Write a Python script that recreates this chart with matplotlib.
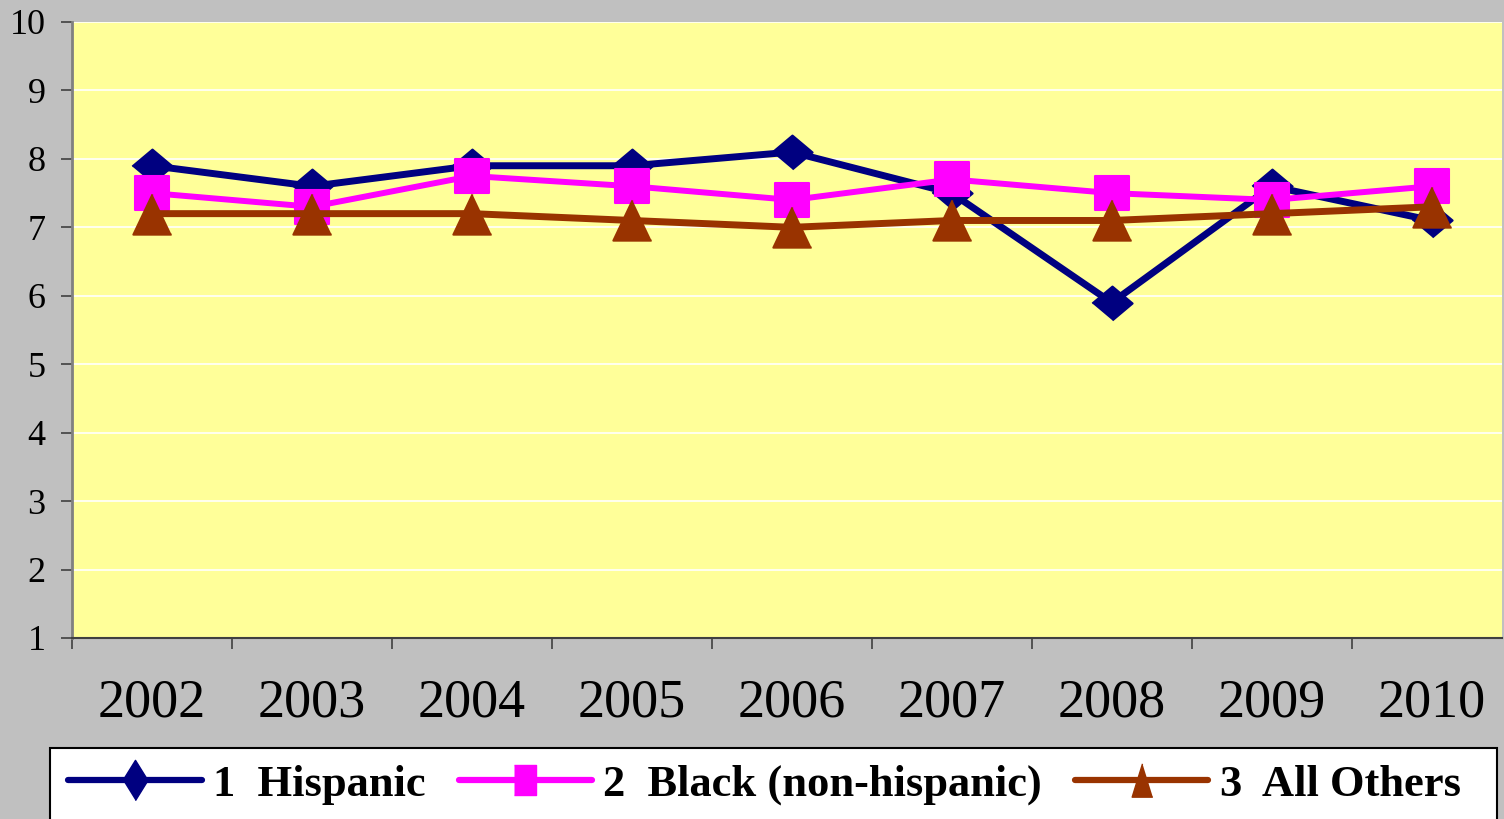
import matplotlib
matplotlib.use("Agg")
import matplotlib.pyplot as plt
from matplotlib.lines import Line2D
from matplotlib.markers import MarkerStyle
from matplotlib.patches import Rectangle
import numpy as np

years = ["2002", "2003", "2004", "2005", "2006", "2007", "2008", "2009", "2010"]
hispanic = [7.9, 7.6, 7.9, 7.9, 8.1, 7.5, 5.9, 7.6, 7.1]
black = [7.5, 7.3, 7.75, 7.6, 7.4, 7.7, 7.5, 7.4, 7.6]
others = [7.2, 7.2, 7.2, 7.1, 7.0, 7.1, 7.1, 7.2, 7.3]
labels = ["1  Hispanic", "2  Black (non-hispanic)", "3  All Others"]
colors = ["#000080", "#FF00FF", "#993300"]
yticks = list(range(1, 11))

W, H = 1504, 819
fig = plt.figure(figsize=(W / 100, H / 100), dpi=100, facecolor="#C0C0C0")
ax = fig.add_axes([72 / W, (H - 638) / H, (1502 - 72) / W, (638 - 22) / H])
ax.set_facecolor("#FFFF99")

x = np.arange(len(years))

diamond = MarkerStyle([(-1, 0), (0, 0.84), (1, 0), (0, -0.84)], joinstyle="round")
square = MarkerStyle("s", joinstyle="round")
tri = MarkerStyle([(0, 1), (-0.95, -1), (0.95, -1)], joinstyle="round")

ax.plot(x, hispanic, color=colors[0], lw=5, marker=diamond, ms=29,
        mec=colors[0], mfc=colors[0], mew=1.5, solid_joinstyle="round", zorder=3)
ax.plot(x, black, color=colors[1], lw=4.3, marker=square, ms=24,
        mec=colors[1], mfc=colors[1], mew=1.5, solid_joinstyle="round", zorder=4)
ax.plot(x, others, color=colors[2], lw=5, marker=tri, ms=29,
        mec=colors[2], mfc=colors[2], mew=1.5, solid_joinstyle="round", zorder=5)

ax.set_xlim(-0.5, 8.44)
ax.set_ylim(1, 10)
ax.set_yticks(yticks)
ax.set_yticklabels([str(v) for v in yticks], fontsize=26, family="Liberation Serif")
ax.set_xticks(x)
ax.set_xticklabels(years, fontsize=39, family="Liberation Serif")
ax.set_xticks(np.arange(-0.5, 8.5, 1.0), minor=True)
ax.tick_params(axis="x", which="major", length=0, pad=29)
ax.tick_params(axis="x", which="minor", length=8, width=1.2, color="#404040", direction="out")
ax.tick_params(axis="y", which="major", length=8, width=1.2, color="#404040", pad=11)

ax.grid(axis="y", color="white", lw=1.2, zorder=0)
ax.set_axisbelow(True)
for s in ["top", "right"]:
    ax.spines[s].set_visible(False)
ax.spines["left"].set_color("#808080")
ax.spines["left"].set_linewidth(2)
ax.spines["bottom"].set_color("#404040")
ax.spines["bottom"].set_linewidth(1.5)

# legend box
fig.patches.append(Rectangle((50 / W, -0.02), (1497 - 50) / W, (H - 748) / H + 0.02,
                             transform=fig.transFigure, facecolor="white",
                             edgecolor="black", lw=1.5, zorder=1))

leg_d = MarkerStyle([(-0.62, 0), (0, 1), (0.62, 0), (0, -1)], joinstyle="round")
leg_s = MarkerStyle([(-0.72, -1), (0.72, -1), (0.72, 1), (-0.72, 1)], joinstyle="round")
leg_t = MarkerStyle([(0, 1), (-0.62, -1), (0.62, -1)], joinstyle="round")
handles = [
    Line2D([], [], color=colors[0], lw=4.5, marker=leg_d, ms=29, mfc=colors[0], mec=colors[0], solid_capstyle="round"),
    Line2D([], [], color=colors[1], lw=4.5, marker=leg_s, ms=22, mfc=colors[1], mec=colors[1], solid_capstyle="round"),
    Line2D([], [], color=colors[2], lw=4.5, marker=leg_t, ms=24, mfc=colors[2], mec=colors[2], solid_capstyle="round"),
]
leg = fig.legend(handles, labels, loc="center left", bbox_to_anchor=(46 / W, 1 - 785 / H),
                 ncol=3, frameon=False, handlelength=3.0, handletextpad=0.25,
                 columnspacing=0.75, borderpad=0,
                 prop={"family": "Liberation Serif", "weight": "bold", "size": 32})
leg.set_zorder(2)

fig.savefig("out.png", dpi=100, facecolor=fig.get_facecolor())
